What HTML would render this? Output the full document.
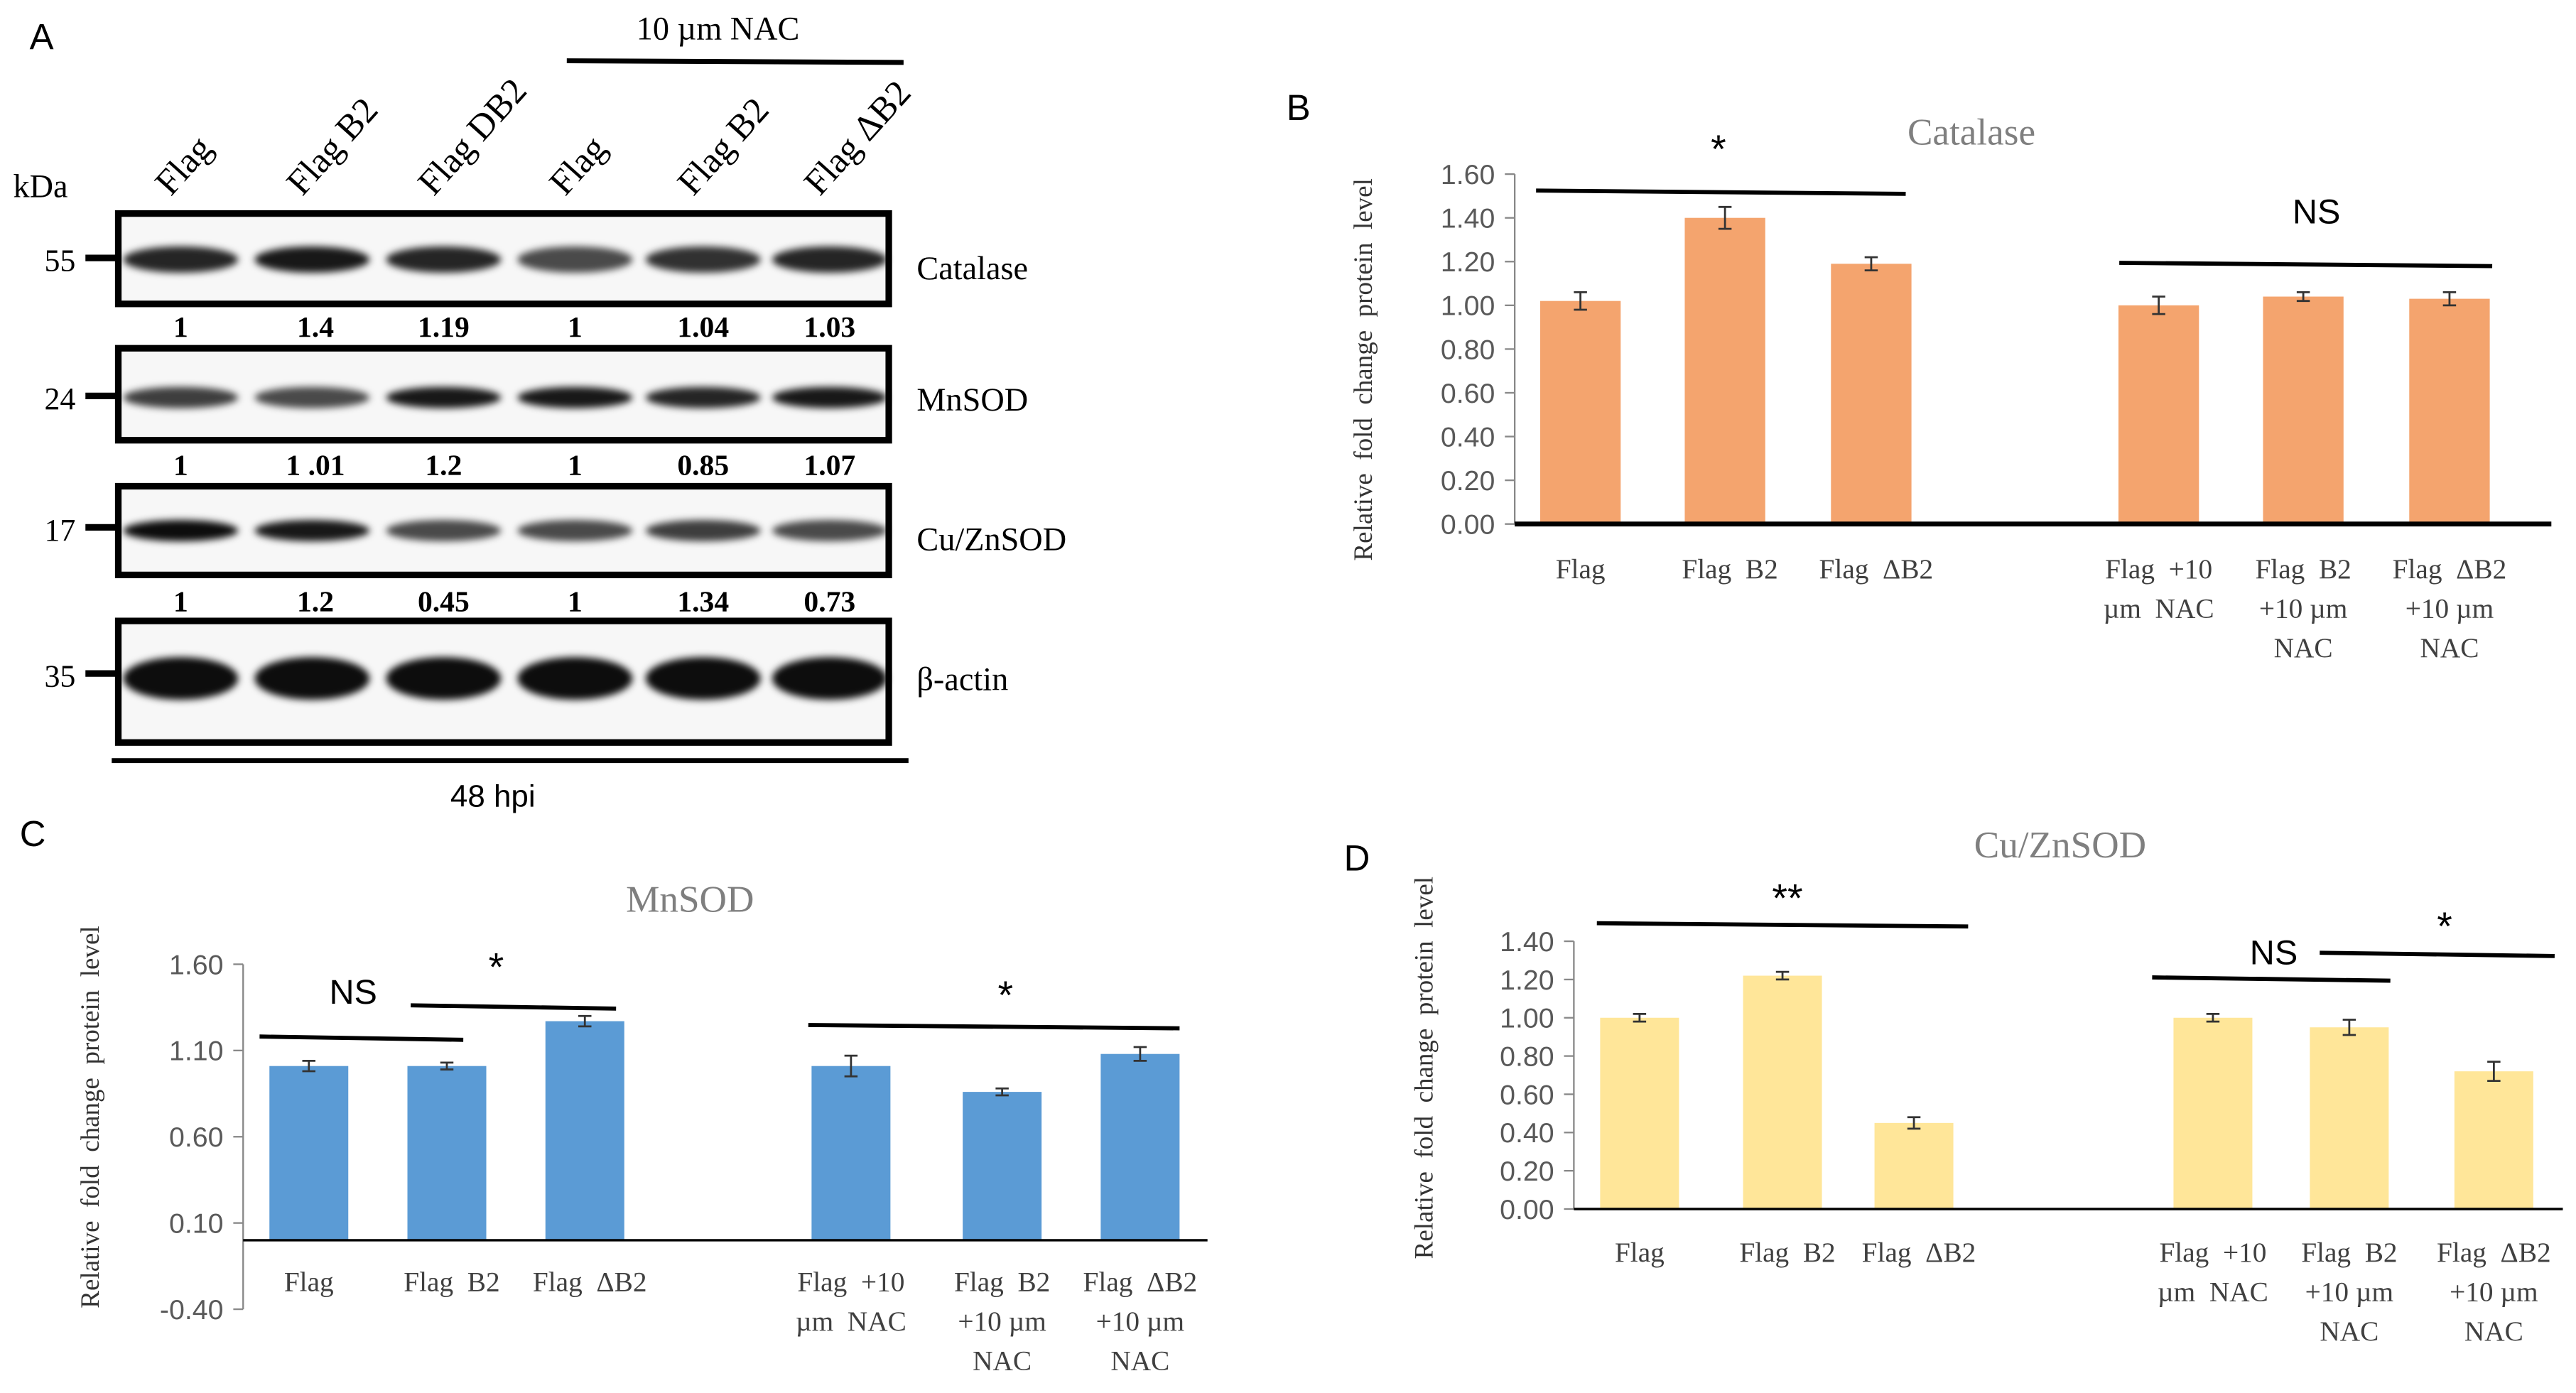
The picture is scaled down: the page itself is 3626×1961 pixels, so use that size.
<!DOCTYPE html>
<html><head><meta charset="utf-8"><style>
html,body{margin:0;padding:0;background:#fff;}
svg{display:block;}
.serif{font-family:"Liberation Serif",serif;}
.sans{font-family:"Liberation Sans",sans-serif;}
text{white-space:pre;}
</style></head><body>
<svg id="fig" width="3626" height="1961" viewBox="0 0 1568 848" preserveAspectRatio="none" xmlns="http://www.w3.org/2000/svg">
<defs><filter id="blur" x="-20%" y="-50%" width="140%" height="200%"><feGaussianBlur stdDeviation="2.2"/></filter></defs>
<g id="panelA"></g>
<g id="panelB"></g>
<g id="panelC"></g>
<g id="panelD"></g>
</svg>
<script>
// ---------- Data ----------
const categories = ["Flag", "Flag  B2", "Flag  ΔB2", "Flag  +10|µm  NAC", "Flag  B2|+10 µm|NAC", "Flag  ΔB2|+10 µm|NAC"];
const catalaseValues = [1.02, 1.40, 1.19, 1.00, 1.04, 1.03];
const catalaseErrors = [0.04, 0.05, 0.03, 0.04, 0.02, 0.03];
const mnsodValues = [1.01, 1.01, 1.27, 1.01, 0.86, 1.08];
const mnsodErrors = [0.03, 0.02, 0.03, 0.06, 0.02, 0.04];
const cuznValues = [1.00, 1.22, 0.45, 1.00, 0.95, 0.72];
const cuznErrors = [0.02, 0.02, 0.03, 0.02, 0.04, 0.05];
const catalaseTicks = ["0.00","0.20","0.40","0.60","0.80","1.00","1.20","1.40","1.60"];
const mnsodTicks = ["-0.40","0.10","0.60","1.10","1.60"];
const cuznTicks = ["0.00","0.20","0.40","0.60","0.80","1.00","1.20","1.40"];
const laneLabels = ["Flag","Flag B2","Flag DB2","Flag","Flag B2","Flag ΔB2"];
const catalaseBlot = ["1","1.4","1.19","1","1.04","1.03"];
const mnsodBlot = ["1","1 .01","1.2","1","0.85","1.07"];
const cuznBlot = ["1","1.2","0.45","1","1.34","0.73"];

const NS = "http://www.w3.org/2000/svg";
function mk(parent, tag, attrs, text){
  const e = document.createElementNS(NS, tag);
  for (const k in attrs) e.setAttribute(k, attrs[k]);
  if (text !== undefined) e.textContent = text;
  parent.appendChild(e);
  return e;
}

// ---------- Panel A ----------
const A = document.getElementById('panelA');
const laneX = [110, 190, 270, 350, 428, 505];
let t;
t = mk(A,'text',{x:18,y:30,'font-size':22,class:'sans'},'A');
 
t = mk(A,'text',{x:437,y:24,'font-size':20,'text-anchor':'middle',class:'serif'},'10 µm NAC');
 
t = mk(A,'line',{x1:345,y1:37,x2:550,y2:38,stroke:'#000','stroke-width':3});
 
laneLabels.forEach((l,i)=>{
  const e = mk(A,'text',{x:laneX[i]-6,y:120,'font-size':22,class:'serif',transform:`rotate(-48 ${laneX[i]-6} 120)`},l);
   
});
t = mk(A,'text',{x:8,y:120,'font-size':20,class:'serif'},'kDa');
 
const blots = [
  {y:130,h:55,name:'Catalase',mw:'55',mwY:160,bandY:158,bw:16,op:[0.85,0.9,0.85,0.7,0.8,0.85],vals:catalaseBlot,vy:205,ly:170},
  {y:212,h:56,name:'MnSOD',mw:'24',mwY:244,bandY:242,bw:13,op:[0.75,0.7,0.9,0.9,0.85,0.9],vals:mnsodBlot,vy:289,ly:250},
  {y:296,h:54,name:'Cu/ZnSOD',mw:'17',mwY:324,bandY:323,bw:13,op:[0.95,0.9,0.7,0.7,0.75,0.7],vals:cuznBlot,vy:372,ly:335},
  {y:378,h:74,name:'β-actin',mw:'35',mwY:413,bandY:413,bw:26,op:[0.95,0.95,0.95,0.95,0.95,0.95],vals:null,vy:0,ly:420}
];
blots.forEach(b=>{
  const g = mk(A,'g',{});
  
  
  mk(g,'rect',{x:72,y:b.y,width:469,height:b.h,fill:'#f7f7f7'});
  laneX.forEach((x,i)=>{
    const e = mk(g,'ellipse',{cx:x,cy:b.bandY,rx:35,ry:b.bw/2,fill:'#000','fill-opacity':b.op[i],filter:'url(#blur)'});
     
  });
  mk(g,'rect',{x:72,y:b.y,width:469,height:b.h,fill:'none',stroke:'#000','stroke-width':4});
  mk(g,'line',{x1:52,y1:b.mwY-3,x2:72,y2:b.mwY-3,stroke:'#000','stroke-width':4});
  let e = mk(g,'text',{x:46,y:b.mwY+5,'font-size':19,'text-anchor':'end',class:'serif'},b.mw);
   
  e = mk(g,'text',{x:558,y:b.ly,'font-size':20,class:'serif'},b.name);
   
  if (b.vals) b.vals.forEach((v,i)=>{
    const q = mk(g,'text',{x:laneX[i]+(i==1?2:0),y:b.vy,'font-size':18,'font-weight':'bold','text-anchor':'middle',class:'serif'},v);
     
  });
});
t = mk(A,'line',{x1:68,y1:463,x2:553,y2:463,stroke:'#000','stroke-width':3});
 
t = mk(A,'text',{x:300,y:491,'font-size':19,'text-anchor':'middle',class:'sans'},'48 hpi');
 

// ---------- Charts ----------
function chart(cfg){
  const G = document.getElementById(cfg.id);
  const yScale = v => cfg.y0 - (v - cfg.vmin)/(cfg.vmax-cfg.vmin)*(cfg.y0-cfg.y1);
  let e = mk(G,'text',{x:cfg.letter[0],y:cfg.letter[1],'font-size':22,class:'sans'},cfg.letter[2]);
   
  e = mk(G,'text',{x:cfg.titleX,y:cfg.titleY,'font-size':23,fill:'#7f7f7f','text-anchor':'middle',class:'serif'},cfg.title);
   
  e = mk(G,'text',{x:0,y:0,'font-size':16,fill:'#333','text-anchor':'middle',class:'serif',transform:`translate(${cfg.ytX} ${cfg.ytY}) rotate(-90)`},'Relative  fold  change  protein  level');
   
  e = mk(G,'line',{x1:cfg.ax,y1:yScale(cfg.vmax),x2:cfg.ax,y2:yScale(cfg.vmin),stroke:'#888','stroke-width':1});
   
  cfg.ticks.forEach(tk=>{
    const v = parseFloat(tk), y = yScale(v);
    mk(G,'line',{x1:cfg.ax-6,y1:y,x2:cfg.ax,y2:y,stroke:'#888','stroke-width':1});
    const q = mk(G,'text',{x:cfg.ax-12,y:y+6,'font-size':17,fill:'#595959','text-anchor':'end',class:'sans'},tk);
     
  });
  cfg.values.forEach((v,i)=>{
    const cx = cfg.xs[i];
    const r = mk(G,'rect',{x:cx-cfg.bw/2,y:yScale(v),width:cfg.bw,height:yScale(0)-yScale(v),fill:cfg.color});
     
    const er = cfg.errors[i], yt = yScale(v+er), yb = yScale(v-er);
    const eb = mk(G,'path',{d:`M${cx} ${yt}V${yb}M${cx-4} ${yt}H${cx+4}M${cx-4} ${yb}H${cx+4}`,stroke:'#333','stroke-width':1.2,fill:'none'});
     
  });
  e = mk(G,'line',{x1:cfg.ax,y1:yScale(0),x2:cfg.axEnd,y2:yScale(0),stroke:'#000','stroke-width':cfg.axW});
   
  categories.forEach((c,i)=>{
    c.split('|').forEach((ln,j)=>{
      const q = mk(G,'text',{x:cfg.xs[i]+(i<3&&i>0?3:0),y:cfg.labY+j*24,'font-size':17,fill:'#404040','text-anchor':'middle',class:'serif'},ln);
       
    });
  });
  cfg.sig.forEach(s=>{
    const l = mk(G,'line',{x1:s[0],y1:s[2],x2:s[1],y2:s[2]+2,stroke:'#000','stroke-width':2.5});
     
    const q = mk(G,'text',{x:s[3],y:s[4],'font-size':s[5]=='NS'?21:24,'text-anchor':'middle',class:'sans'},s[5]);
     
  });
}
chart({id:'panelB',letter:[783,73,'B'],title:'Catalase',titleX:1200,titleY:88,ytX:835,ytY:225,
  ax:922,axEnd:1553,axW:3,vmin:0,vmax:1.6,y0:319,y1:106,ticks:catalaseTicks,
  values:catalaseValues,errors:catalaseErrors,xs:[962,1050,1139,1314,1402,1491],bw:49,color:'#F4A46E',labY:352,
  sig:[[935,1160,116,1046,99,'*'],[1290,1517,160,1410,136,'NS']]});
chart({id:'panelC',letter:[12,515,'C'],title:'MnSOD',titleX:420,titleY:555,ytX:60,ytY:680,
  ax:148,axEnd:735,axW:1.5,vmin:-0.4,vmax:1.6,y0:797,y1:587,ticks:mnsodTicks,
  values:mnsodValues,errors:mnsodErrors,xs:[188,272,356,518,610,694],bw:48,color:'#5B9BD5',labY:786,
  sig:[[158,282,631,215,611,'NS'],[250,375,612,302,597,'*'],[492,718,624,612,614,'*']]});
chart({id:'panelD',letter:[818,530,'D'],title:'Cu/ZnSOD',titleX:1254,titleY:522,ytX:872,ytY:650,
  ax:958,axEnd:1560,axW:1.5,vmin:0,vmax:1.4,y0:736,y1:573,ticks:cuznTicks,
  values:cuznValues,errors:cuznErrors,xs:[998,1085,1165,1347,1430,1518],bw:48,color:'#FFE699',labY:768,
  sig:[[972,1198,562,1088,555,'**'],[1310,1455,595,1384,587,'NS'],[1412,1555,580,1488,572,'*']]});
</script>
</body></html>
